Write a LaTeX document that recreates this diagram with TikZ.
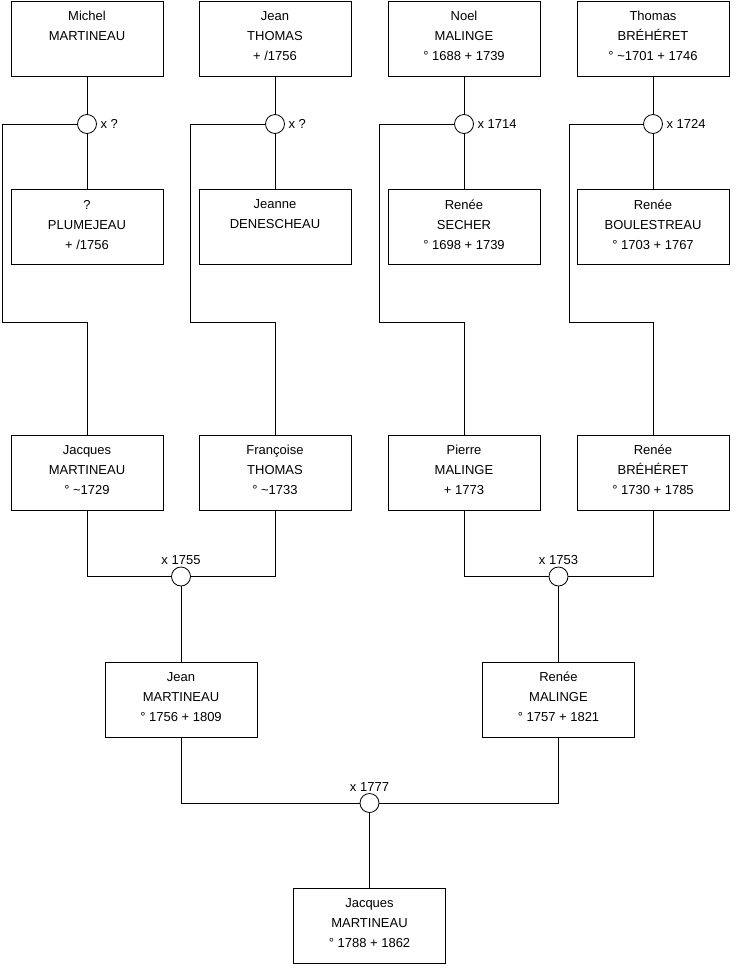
\documentclass[tikz,border=0pt]{standalone}
\usepackage{fontspec}
\setmainfont{Liberation Sans}

\begin{document}
\begin{tikzpicture}[x=1pt, y=-1pt,
    person/.style={rectangle, draw=black, fill=white, line width=0.8pt,
        minimum width=152pt, minimum height=75pt, inner sep=0pt,
        text depth=5pt, align=center, font=\fontsize{13}{20}\selectfont},
    wedding/.style={circle, draw=black, fill=white, line width=0.8pt,
        minimum size=19pt, inner sep=0pt},
    wlabel/.style={font=\fontsize{13}{15}\selectfont, inner sep=1.5pt},
    rlabel/.style={wlabel, inner xsep=3.5pt},
    link/.style={draw=black, line width=0.8pt}]

    % Fix the page size
    \useasboundingbox (0,0) rectangle (740,975);

    % Great-grandparents
    \node[person] (michel) at (87,38.5) {Michel\\MARTINEAU\\\mbox{}};
    \node[person] (jeanT) at (275,38.5) {Jean\\THOMAS\\+ /1756};
    \node[person] (noel) at (464,38.5) {Noel\\MALINGE\\° 1688 + 1739};
    \node[person] (thomas) at (653,38.5) {Thomas\\BRÉHÉRET\\° \textasciitilde1701 + 1746};

    \node[person] (plumejeau) at (87,227) {?\\PLUMEJEAU\\+ /1756};
    \node[person] (denescheau) at (275,227) {Jeanne\\DENESCHEAU\\\mbox{}};
    \node[person] (secher) at (464,227) {Renée\\SECHER\\° 1698 + 1739};
    \node[person] (boulestreau) at (653,227) {Renée\\BOULESTREAU\\° 1703 + 1767};

    % Their weddings
    \node[wedding, label={[rlabel]right:x ?}] (m1) at (87,124) {};
    \node[wedding, label={[rlabel]right:x ?}] (m2) at (275,124) {};
    \node[wedding, label={[rlabel]right:x 1714}] (m3) at (464,124) {};
    \node[wedding, label={[rlabel]right:x 1724}] (m4) at (653,124) {};

    % Grandparents
    \node[person] (jacques) at (87,472.5) {Jacques\\MARTINEAU\\° \textasciitilde1729};
    \node[person] (francoise) at (275,472.5) {Françoise\\THOMAS\\° \textasciitilde1733};
    \node[person] (pierre) at (464,472.5) {Pierre\\MALINGE\\+ 1773};
    \node[person] (reneeB) at (653,472.5) {Renée\\BRÉHÉRET\\° 1730 + 1785};

    \node[wedding, label={[wlabel]above:x 1755}] (mA) at (181,576.5) {};
    \node[wedding, label={[wlabel]above:x 1753}] (mB) at (558.5,576.5) {};

    % Parents
    \node[person] (jean) at (181,699.5) {Jean\\MARTINEAU\\° 1756 + 1809};
    \node[person] (reneeM) at (558.5,699.5) {Renée\\MALINGE\\° 1757 + 1821};

    \node[wedding, label={[wlabel]above:x 1777}] (mC) at (369.5,803) {};

    % Root
    \node[person] (root) at (369.5,926) {Jacques\\MARTINEAU\\° 1788 + 1862};

    % Bends of the long links
    \coordinate (b1) at (2,322);
    \coordinate (b2) at (190,322);
    \coordinate (b3) at (379,322);
    \coordinate (b4) at (569,322);

    % Draw the links
    \foreach \w/\up/\down in {m1/michel/plumejeau, m2/jeanT/denescheau,
                             m3/noel/secher, m4/thomas/boulestreau}
        \draw[link] (\up) -- (\w) -- (\down);

    \draw[link] (m1.west) -| (b1) -| (jacques.north);
    \draw[link] (m2.west) -| (b2) -| (francoise.north);
    \draw[link] (m3.west) -| (b3) -| (pierre.north);
    \draw[link] (m4.west) -| (b4) -| (reneeB.north);

    \draw[link] (jacques.south) |- (mA.west);
    \draw[link] (francoise.south) |- (mA.east);
    \draw[link] (pierre.south) |- (mB.west);
    \draw[link] (reneeB.south) |- (mB.east);
    \draw[link] (mA) -- (jean);
    \draw[link] (mB) -- (reneeM);

    \draw[link] (jean.south) |- (mC.west);
    \draw[link] (reneeM.south) |- (mC.east);
    \draw[link] (mC) -- (root);

\end{tikzpicture}
\end{document}
